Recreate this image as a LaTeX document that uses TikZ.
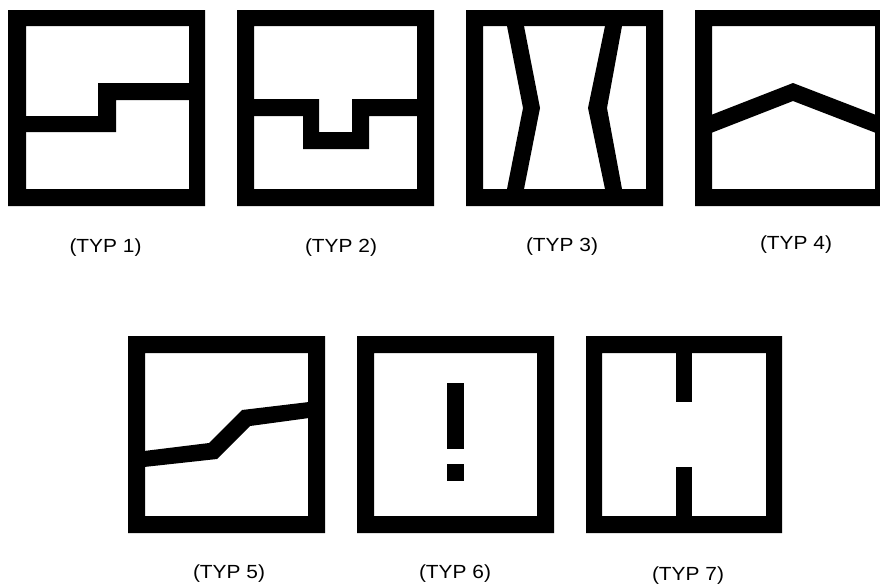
\documentclass[tikz,border=0pt]{standalone}
\usepackage{fontspec}
\setmainfont{Liberation Sans}[FakeStretch=1.1]
\begin{document}
\begin{tikzpicture}[x=1pt,y=-1pt,
  wall/.style={fill=black},
  frame/.style={fill=black,even odd rule},
  lbl/.style={font=\fontsize{19}{21}\selectfont, inner sep=0pt, text=black}]
\clip (0,0) rectangle (880,584);
\fill[white] (0,0) rectangle (880,584);
% TYP 1
\fill[frame] (8,10) rectangle (205,206) (26,26) rectangle (189,189);
\fill[wall] (25,116) -- (98,116) -- (98,83) -- (190,83) -- (190,100) -- (116,100) -- (116,132) -- (25,132) -- cycle;
% TYP 2
\fill[frame] (237,10) rectangle (434,206) (254,26) rectangle (417,189);
\fill[wall] (253,99) -- (319,99) -- (319,132) -- (352,132) -- (352,99) -- (418,99) -- (418,116) -- (369,116) -- (369,149) -- (303,149) -- (303,116) -- (253,116) -- cycle;
% TYP 3
\fill[frame] (466,10) rectangle (663,206) (483,26) rectangle (646,189);
\fill[wall] (507,26) -- (523,108) -- (507,189) -- (524,189) -- (540,108) -- (524,26) -- cycle;
\fill[wall] (605,26) -- (588,108) -- (605,189) -- (622,189) -- (607,108) -- (622,26) -- cycle;
% TYP 4
\fill[frame] (695,10) rectangle (892,206) (712,26) rectangle (875,189);
\fill[wall] (711,115) -- (793,83) -- (876,115) -- (876,133) -- (793,101) -- (711,133) -- cycle;
% TYP 5
\fill[frame] (128,336) rectangle (325,533) (145,353) rectangle (308,516);
\fill[wall] (144,451) -- (209,443) -- (242,410) -- (309,402) -- (309,418) -- (250,426) -- (217,459) -- (144,467) -- cycle;
% TYP 6
\fill[frame] (357,336) rectangle (554,533) (374,353) rectangle (537,516);
\fill[wall] (447,383) rectangle (464,449);
\fill[wall] (447,464) rectangle (464,481);
% TYP 7
\fill[frame] (586,336) rectangle (782,533) (602,353) rectangle (766,516);
\fill[wall] (676,352) rectangle (692,402);
\fill[wall] (676,467) rectangle (692,517);
% labels
\node[lbl] (l1) at (105.5,248) {(TYP 1)};
\node[lbl] (l2) at (341,248) {(TYP 2)};
\node[lbl] (l3) at (562,246.5) {(TYP 3)};
\node[lbl] (l4) at (796,245) {(TYP 4)};
\node[lbl] (l5) at (229,574) {(TYP 5)};
\node[lbl] (l6) at (455,574) {(TYP 6)};
\node[lbl] (l7) at (688,576) {(TYP 7)};
\end{tikzpicture}
\end{document}
